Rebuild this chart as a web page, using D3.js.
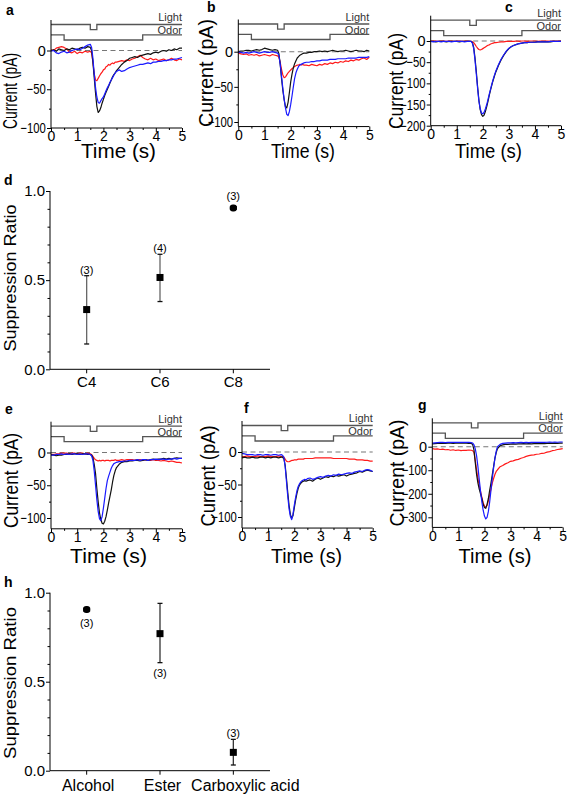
<!DOCTYPE html>
<html><head><meta charset="utf-8">
<script src="https://cdn.jsdelivr.net/npm/d3@7"></script>
<style>
body{margin:0;background:#fff;}
text{font-family:"Liberation Sans",Arial,Helvetica,sans-serif;fill:#000;}
</style></head><body>
<svg id="fig" width="567" height="796"></svg>
<script>
// ---------------- DATA ----------------
const times = [0,0.1,0.2,0.3,0.4,0.5,0.6,0.7,0.8,0.9,1.0,1.1,1.2,1.3,1.4,1.5,
 1.55,1.6,1.65,1.7,1.75,1.8,1.85,1.9,1.95,2.0,2.05,2.1,2.15,2.2,2.25,2.3,2.35,2.4,2.45,2.5,
 2.6,2.7,2.8,2.9,3.0,3.1,3.2,3.3,3.4,3.5,3.6,3.7,3.8,3.9,4.0,4.1,4.2,4.3,4.4,4.5,4.6,4.7,4.8,4.9,5.0];
const timeTicks = [0,1,2,3,4,5];
const timeMinor = [0.5,1.5,2.5,3.5,4.5];

// stimulus protocol (levels: light 3/2, odor 1/0)
const lightT = [0,1.5,1.5,1.75,1.75,5];
const lightV = [3,3,2,2,3,3];
const odorT  = [0,0.5,0.5,3.5,3.5,5];
const odorV  = [1,1,0,0,1,1];

// panel a (pA)
const aBlack = [0,1,-1,2,1,0,2,1,3,2,1,3,4,3,5,4,
 0,-15,-35,-55,-72,-80,-78,-74,-68,-63,-58,-54,-50,-46,-42,-38,-34,-31,-29,-26,
 -22,-18,-15,-13,-10,-9,-8,-9,-7,-6,-5,-4,-5,-3,-2,-3,-1,0,-1,1,0,2,1,3,3];
const aBlue = [-1,0,-3,-4,-2,-1,-3,-2,0,1,2,1,3,5,7,8,
 4,-10,-30,-48,-60,-67,-68,-65,-62,-60,-56,-52,-48,-45,-41,-38,-35,-32,-29,-27,
 -25,-27,-26,-24,-22,-21,-20,-19,-18,-18,-17,-16,-17,-15,-15,-14,-14,-13,-13,-12,-12,-11,-11,-10,-9];
const aRed = [1,0,3,4,5,4,2,-2,-3,-1,-4,-2,-3,-1,-2,-1,
 -3,-15,-30,-38,-39,-36,-33,-30,-28,-25,-24,-21,-20,-18,-19,-17,-16,-17,-15,-15,
 -14,-13,-14,-12,-13,-11,-10,-8,-6,-9,-11,-12,-10,-12,-11,-13,-12,-11,-13,-12,-10,-12,-13,-11,-12];
// panel b
const bBlack = [0,1,1,2,2,1,2,3,2,3,5,4,3,2,3,2,
 -3,-18,-38,-55,-68,-78,-80,-72,-58,-43,-32,-23,-17,-13,-9,-7,-5,-4,-3,-2,
 -2,-1,-1,0,0,1,0,1,0,1,2,1,0,1,1,2,1,0,1,2,1,1,0,2,1];
const bBlue = [-1,-1,-2,-1,-2,-1,0,-1,-2,-1,0,-1,-1,0,-1,-2,
 -5,-18,-35,-52,-68,-80,-89,-91,-85,-75,-63,-50,-38,-30,-25,-21,-19,-18,-17,-16,
 -15,-15,-14,-14,-13,-13,-12,-12,-12,-11,-11,-11,-10,-10,-10,-10,-9,-9,-9,-9,-8,-8,-8,-8,-7];
const bRed = [-2,-3,-4,-3,-5,-4,-5,-4,-6,-5,-4,-5,-6,-4,-5,-6,
 -8,-15,-25,-33,-37,-36,-33,-30,-28,-26,-24,-23,-21,-20,-19,-19,-18,-19,-18,-19,
 -19,-20,-18,-19,-20,-18,-19,-17,-18,-16,-17,-15,-16,-14,-15,-13,-14,-12,-13,-11,-12,-10,-9,-11,-8];
// panel c
const cBlack = [-1,-1,-2,-1,-1,-1,-2,-1,-1,-1,-1,-2,-1,-1,-1,-1,
 -1,-4,-15,-40,-72,-108,-140,-162,-174,-178,-175,-166,-155,-142,-128,-115,-103,-92,-82,-73,
 -58,-45,-34,-25,-18,-13,-10,-8,-6,-5,-4,-4,-3,-3,-3,-2,-2,-2,-2,-2,-2,-1,-1,-1,-1];
const cBlue = [-1,-2,-1,-1,-2,-1,-1,-1,-2,-1,-1,-1,-1,-2,-1,-1,
 -1,-5,-18,-45,-78,-112,-142,-160,-170,-172,-168,-160,-150,-138,-125,-113,-101,-90,-80,-71,
 -56,-43,-33,-24,-17,-13,-10,-8,-6,-5,-4,-4,-3,-3,-3,-2,-2,-2,-2,-2,-1,-1,-1,-1,-1];
const cRed = [0,0,0,-1,0,0,-1,0,0,-1,0,0,-1,0,0,-1,
 -1,-2,-4,-8,-13,-17,-20,-21,-20,-18,-16,-14,-12,-10,-9,-7,-6,-5,-4,-4,
 -3,-2,-2,-1,-1,-1,-1,0,-1,0,0,-1,0,0,0,-1,0,0,0,0,-1,0,0,0,0];
// panel e
const eBlack = [-3,-4,-5,-4,-4,-3,-3,-2,-3,-2,-2,-3,-2,-2,-3,-3,
 -4,-8,-18,-32,-55,-75,-92,-102,-108,-109,-105,-98,-88,-77,-67,-57,-45,-35,-28,-23,
 -18,-15,-14,-14,-13,-13,-12,-12,-13,-12,-11,-12,-11,-10,-11,-10,-10,-9,-10,-9,-10,-9,-8,-9,-9];
const eBlue = [-4,-4,-3,-3,-2,-3,-2,-3,-2,-2,-3,-2,-3,-2,-2,-3,
 -5,-12,-28,-50,-72,-90,-101,-104,-98,-85,-70,-55,-43,-36,-30,-24,-20,-17,-16,-15,
 -14,-14,-13,-13,-12,-12,-12,-11,-12,-11,-11,-12,-11,-11,-10,-11,-10,-10,-11,-10,-10,-9,-10,-9,-9];
const eRed = [-3,-3,-2,-2,-1,-1,-1,-2,-1,-1,-2,-1,-1,-2,-1,-2,
 -3,-6,-9,-11,-12,-13,-12,-13,-12,-12,-13,-12,-12,-12,-13,-12,-12,-12,-11,-12,
 -12,-11,-12,-11,-11,-11,-12,-11,-11,-12,-11,-12,-12,-11,-12,-12,-13,-12,-13,-14,-13,-14,-15,-15,-16];
// panel f
const fBlack = [-9,-8,-9,-9,-8,-9,-9,-8,-8,-9,-8,-9,-8,-8,-9,-8,
 -8,-10,-20,-40,-62,-82,-96,-102,-98,-86,-74,-64,-56,-51,-48,-46,-45,-44,-45,-44,
 -43,-45,-42,-40,-42,-40,-38,-39,-37,-38,-36,-37,-36,-35,-37,-35,-34,-33,-32,-30,-31,-29,-28,-29,-30];
const fBlue = [-2,-3,-4,-4,-4,-5,-4,-4,-5,-4,-4,-5,-4,-4,-5,-4,
 -5,-8,-22,-45,-68,-87,-99,-104,-96,-82,-70,-60,-53,-49,-46,-44,-43,-42,-43,-41,
 -40,-42,-41,-39,-38,-39,-37,-36,-37,-35,-36,-34,-35,-34,-33,-32,-33,-31,-30,-29,-30,-28,-27,-28,-30];
const fRed = [-7,-7,-6,-7,-7,-7,-6,-7,-7,-7,-6,-7,-7,-7,-6,-7,
 -7,-8,-11,-14,-15,-15,-14,-13,-13,-12,-12,-12,-11,-11,-11,-11,-11,-10,-10,-10,
 -10,-10,-9,-9,-9,-9,-9,-9,-9,-10,-10,-10,-10,-10,-10,-11,-11,-11,-12,-12,-12,-13,-13,-14,-14];
// panel g
const gBlack = [12,13,14,14,15,14,15,15,14,15,15,16,15,15,14,14,
 8,-15,-70,-120,-155,-180,-200,-220,-245,-258,-262,-245,-220,-185,-155,-120,-85,-50,-25,-8,
 4,8,10,10,11,12,11,12,12,13,12,13,12,13,14,13,14,13,14,15,14,15,14,15,15];
const gBlue = [15,16,17,18,18,17,18,19,18,18,19,18,19,18,18,17,
 15,8,-10,-40,-85,-140,-190,-235,-270,-295,-307,-300,-275,-235,-185,-135,-90,-50,-20,0,
 10,14,15,16,16,17,16,17,18,17,18,17,18,18,19,18,19,18,19,20,19,20,19,20,20];
const gRed = [-8,-10,-9,-12,-10,-13,-12,-15,-13,-16,-14,-17,-15,-16,-14,-15,
 -17,-25,-60,-100,-135,-165,-190,-215,-238,-252,-258,-250,-230,-205,-180,-155,-135,-118,-105,-98,
 -85,-80,-73,-68,-62,-60,-56,-54,-49,-46,-41,-38,-36,-35,-32,-31,-28,-27,-23,-21,-17,-15,-12,-10,-8];

// suppression ratios
const ratioTicks = [0, 0.5, 1.0];
const ratioMinor = [0.1,0.2,0.3,0.4,0.6,0.7,0.8,0.9];
const dCats = ["C4","C6","C8"];
const dMean = [0.335, 0.515, 0.905];
const dLow  = [0.142, 0.380, 0.895];
const dHigh = [0.525, 0.645, 0.915];
const dN    = ["(3)","(4)","(3)"];
const hCats = ["Alcohol","Ester","Carboxylic acid"];
const hMean = [0.905, 0.770, 0.103];
const hLow  = [0.895, 0.607, 0.032];
const hHigh = [0.915, 0.940, 0.176];
const hN    = ["(3)","(3)","(3)"];
const hNside = ["below","below","above"];

// ---------------- DRAW ----------------
const svg = d3.select("#fig");
const FONT = '"Liberation Sans",Arial,Helvetica,sans-serif';

function squeeze(sel, k){
  sel.each(function(){
    const w = this.getComputedTextLength();
    if (w > 0 && k !== 1) d3.select(this).attr("textLength", w*k).attr("lengthAdjust","spacingAndGlyphs");
  });
}

const tracePanels = [
 {L:"a", lp:[6,15], blk:aBlack, blu:aBlue, red:aRed, ticks:[-100,-50,0], minor:[-75,-25],
  x0:51, x1:182, y0:50.5, yRef:-100, yRefPx:128, yBot:-100, stim:40,
  yl:{x:17.3, cy:91, len:76}, xl:{cx:118.5, y:157.5, len:75}},
 {L:"b", lp:[207,11.5], blk:bBlack, blu:bBlue, red:bRed, ticks:[-100,-50,0], minor:[-75,-25],
  x0:238.3, x1:369.3, y0:51.7, yRef:-100, yRefPx:122, yBot:-106.5, stim:39.5,
  yl:{x:213, cy:73, len:108}, xl:{cx:303, y:157.5, len:64}},
 {L:"c", lp:[505,12], blk:cBlack, blu:cBlue, red:cRed, ticks:[-200,-150,-100,-50,0], minor:[-175,-125,-75,-25],
  x0:430.7, x1:561, y0:41, yRef:-200, yRefPx:125.7, yBot:-200, stim:35.7,
  yl:{x:402.5, cy:81, len:96}, xl:{cx:488.5, y:157.5, len:67}},
 {L:"e", lp:[5,414], blk:eBlack, blu:eBlue, red:eRed, ticks:[-100,-50,0], minor:[-75,-25],
  x0:51, x1:182, y0:452.5, yRef:-100, yRefPx:518, yBot:-116.5, stim:441.7,
  yl:{x:17.5, cy:480.5, len:95}, xl:{cx:108.5, y:563, len:77}},
 {L:"f", lp:[244,413], blk:fBlack, blu:fBlue, red:fRed, ticks:[-100,-50,0], minor:[-75,-25],
  x0:242, x1:372.7, y0:452, yRef:-100, yRefPx:517, yBot:-117, stim:441,
  yl:{x:214.5, cy:476, len:101}, xl:{cx:306.5, y:563, len:71}},
 {L:"g", lp:[418,410], blk:gBlack, blu:gBlue, red:gRed, ticks:[-300,-200,-100,0], minor:[-250,-150,-50],
  x0:432.3, x1:562.7, y0:446.7, yRef:-300, yRefPx:517.3, yBot:-343, stim:438.3,
  yl:{x:404, cy:473, len:107}, xl:{cx:495, y:563, len:73}}
];

tracePanels.forEach(p => {
  const g = svg.append("g");
  const x = d3.scaleLinear().domain([0,5]).range([p.x0, p.x1]);
  const y = d3.scaleLinear().domain([0, p.yRef]).range([p.y0, p.yRefPx]);
  const s = d3.scaleLinear().domain([0,3]).range([p.stim, p.stim - 15.5]);
  const yBotPx = y(p.yBot);

  // stimulus traces
  const sl = d3.line().x(d=>x(d[0])).y(d=>s(d[1]));
  g.append("path").attr("d", sl(lightT.map((t,i)=>[t,lightV[i]])))
    .attr("fill","none").attr("stroke","#555").attr("stroke-width",1.3);
  g.append("path").attr("d", sl(odorT.map((t,i)=>[t,odorV[i]])))
    .attr("fill","none").attr("stroke","#555").attr("stroke-width",1.3);
  g.append("text").attr("x", p.x1).attr("y", p.stim - 18.8).attr("text-anchor","end")
    .attr("font-size",11).style("fill","#333").text("Light");
  g.append("text").attr("x", p.x1).attr("y", p.stim - 6).attr("text-anchor","end")
    .attr("font-size",11).style("fill","#333").text("Odor");

  // zero dashed line
  g.append("line").attr("x1", x(0)).attr("x2", x(5)).attr("y1", y(0)).attr("y2", y(0))
    .attr("stroke","#777").attr("stroke-width",1.1).attr("stroke-dasharray","5,3.5");

  // traces
  const tl = d3.line().x((d,i)=>x(times[i])).y(d=>y(d));
  [[p.red,"#ff1a1a"],[p.blk,"#111"],[p.blu,"#1a1aff"]].forEach(([arr,col])=>{
    g.append("path").attr("d", tl(arr)).attr("fill","none").attr("stroke",col)
      .attr("stroke-width",1.2).attr("stroke-linejoin","round");
  });

  // axes
  const ya = g.append("g").attr("transform",`translate(${p.x0},0)`)
    .call(d3.axisLeft(y).tickValues(p.ticks).tickSize(4).tickPadding(1.2).tickFormat(d3.format("d")));
  ya.select(".domain").remove();
  ya.selectAll("text").attr("font-size",14.5).attr("font-family",FONT);
  ya.selectAll(".tick text").each(function(){ const t=d3.select(this); if (t.text().length>1) squeeze(t,0.78); });
  const ym = g.append("g").attr("transform",`translate(${p.x0},0)`)
    .call(d3.axisLeft(y).tickValues(p.minor).tickSize(2).tickFormat(""));
  ym.select(".domain").remove();
  g.append("line").attr("x1",p.x0).attr("x2",p.x0).attr("y1",yBotPx).attr("y2",p.stim-20)
    .attr("stroke","#000").attr("stroke-width",1);

  const xa = g.append("g").attr("transform",`translate(0,${yBotPx})`)
    .call(d3.axisBottom(x).tickValues(timeTicks).tickSize(4).tickPadding(-0.5).tickFormat(d3.format("d")));
  xa.select(".domain").remove();
  xa.selectAll("text").attr("font-size",14).attr("font-family",FONT);
  const xm = g.append("g").attr("transform",`translate(0,${yBotPx})`)
    .call(d3.axisBottom(x).tickValues(timeMinor).tickSize(2).tickFormat(""));
  xm.select(".domain").remove();
  g.append("line").attr("x1",p.x0).attr("x2",p.x1).attr("y1",yBotPx).attr("y2",yBotPx)
    .attr("stroke","#000").attr("stroke-width",1);

  // labels
  g.append("text").attr("transform",`translate(${p.yl.x},${p.yl.cy}) rotate(-90)`)
    .attr("text-anchor","middle").attr("font-size",19.5)
    .attr("textLength",p.yl.len).attr("lengthAdjust","spacingAndGlyphs").text("Current (pA)");
  g.append("text").attr("x",p.xl.cx).attr("y",p.xl.y).attr("text-anchor","middle")
    .attr("font-size",21).attr("textLength",p.xl.len).attr("lengthAdjust","spacingAndGlyphs").text("Time (s)");
  g.append("text").attr("x",p.lp[0]).attr("y",p.lp[1]).attr("font-size",14).attr("font-weight","bold").text(p.L);
});

// ---------- suppression panels ----------
const dotPanels = [
 {L:"d", lp:[4,185], cats:dCats, mean:dMean, lo:dLow, hi:dHigh, n:dN, side:["above","above","above"],
  y0:369.3, y1:191, catFont:15, catDy:17.5, catShift:[0,0,0], ylab:{cy:278, len:147}, errCol:"#666"},
 {L:"h", lp:[4,587], cats:hCats, mean:hMean, lo:hLow, hi:hHigh, n:hN, side:hNside,
  y0:770.7, y1:592.7, catFont:16, catDy:20, catShift:[1.5,2.5,12], ylab:{cy:683, len:152}, errCol:"#333"}
];

dotPanels.forEach(p => {
  const g = svg.append("g");
  const x = d3.scalePoint().domain(p.cats).range([50,270]).padding(0.5);
  const y = d3.scaleLinear().domain([0,1]).range([p.y0, p.y1]);

  const ya = g.append("g").attr("transform","translate(50,0)")
    .call(d3.axisLeft(y).tickValues(ratioTicks).tickSize(4).tickPadding(1).tickFormat(d3.format(".1f")));
  ya.select(".domain").remove();
  ya.selectAll("text").attr("font-size",15).attr("font-family",FONT);
  const ym = g.append("g").attr("transform","translate(50,0)")
    .call(d3.axisLeft(y).tickValues(ratioMinor).tickSize(2.5).tickFormat(""));
  ym.select(".domain").remove();
  g.append("line").attr("x1",50).attr("x2",50).attr("y1",y(0)).attr("y2",y(1)).attr("stroke","#000");
  g.append("line").attr("x1",50).attr("x2",270).attr("y1",y(0)).attr("y2",y(0)).attr("stroke","#000");

  p.cats.forEach((c,i)=>{
    const cx = x(c);
    g.append("line").attr("x1",cx).attr("x2",cx).attr("y1",y(0)).attr("y2",y(0)+4).attr("stroke","#000");
    g.append("text").attr("x",cx+p.catShift[i]).attr("y",y(0)+p.catDy).attr("text-anchor","middle")
      .attr("font-size",p.catFont).text(c);
    // error bar
    g.append("line").attr("x1",cx).attr("x2",cx).attr("y1",y(p.lo[i])).attr("y2",y(p.hi[i]))
      .attr("stroke",p.errCol).attr("stroke-width",1.3);
    [p.lo[i],p.hi[i]].forEach(v=>{
      g.append("line").attr("x1",cx-2.5).attr("x2",cx+2.5).attr("y1",y(v)).attr("y2",y(v))
        .attr("stroke","#111").attr("stroke-width",1.3);
    });
    const sz = 7;
    const tight = (p.hi[i]-p.lo[i]) < 0.05;
    g.append("rect").attr("x",cx-sz/2).attr("y",y(p.mean[i])-sz/2).attr("width",sz).attr("height",sz)
      .attr("rx", tight ? 3 : 0).attr("fill","#000");
    if (tight) {
      g.append("rect").attr("x",cx-sz/2).attr("y",y(p.mean[i])-2).attr("width",sz).attr("height",4).attr("fill","#000");
    }
    const topPx = Math.min(y(p.hi[i]), y(p.mean[i])-sz/2);
    const botPx = Math.max(y(p.lo[i]), y(p.mean[i])+sz/2);
    const ly = p.side[i]==="above" ? topPx - (tight?4:2) : botPx + 14;
    g.append("text").attr("x",cx).attr("y",ly).attr("text-anchor","middle").attr("font-size",11).text(p.n[i]);
  });

  g.append("text").attr("transform",`translate(15.5,${p.ylab.cy}) rotate(-90)`)
    .attr("text-anchor","middle").attr("font-size",17)
    .attr("textLength",p.ylab.len).attr("lengthAdjust","spacingAndGlyphs").text("Suppression Ratio");
  g.append("text").attr("x",p.lp[0]).attr("y",p.lp[1]).attr("font-size",14).attr("font-weight","bold").text(p.L);
});
</script>
</body></html>
